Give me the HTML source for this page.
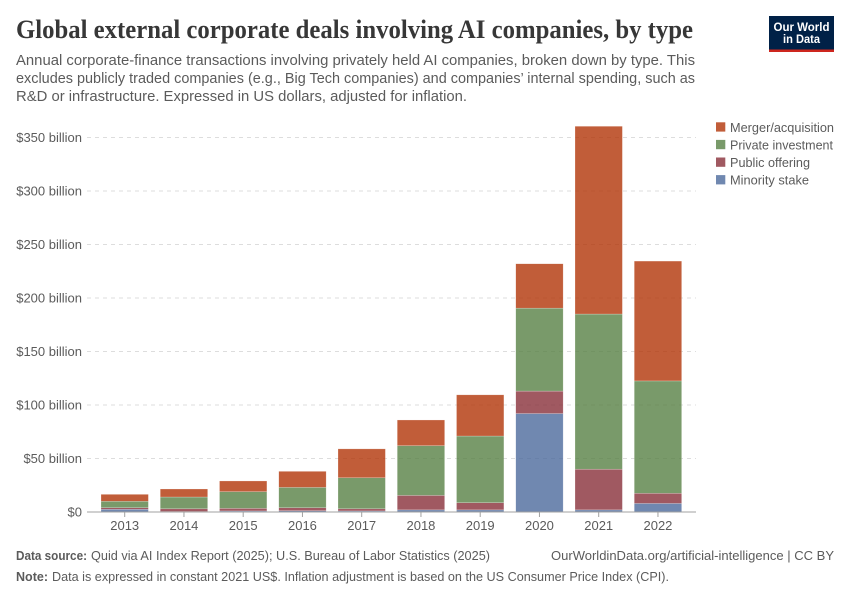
<!DOCTYPE html>
<html lang="en">
<head>
<meta charset="utf-8">
<title>Global external corporate deals involving AI companies, by type</title>
<style>
html,body{margin:0;padding:0;background:#fff;}
svg{display:block;font-family:"Liberation Sans",sans-serif;}
text{white-space:pre;}
</style>
</head>
<body>
<svg id="chart" width="850" height="600" viewBox="0 0 850 600" xmlns="http://www.w3.org/2000/svg">
  <rect width="850" height="600" fill="#ffffff"/>
  <text x="16" y="38" font-family="'Liberation Serif',serif" font-weight="700" font-size="26" fill="#373737" textLength="677" lengthAdjust="spacingAndGlyphs">Global external corporate deals involving AI companies, by type</text>
  <g font-size="15" fill="#5b5b5b">
    <text x="16" y="65" textLength="679" lengthAdjust="spacingAndGlyphs">Annual corporate-finance transactions involving privately held AI companies, broken down by type. This</text>
    <text x="16" y="83" textLength="679" lengthAdjust="spacingAndGlyphs">excludes publicly traded companies (e.g., Big Tech companies) and companies’ internal spending, such as</text>
    <text x="16" y="101" textLength="451" lengthAdjust="spacingAndGlyphs">R&amp;D or infrastructure. Expressed in US dollars, adjusted for inflation.</text>
  </g>
  <g>
    <rect x="769" y="16" width="65" height="36" fill="#002147"/>
    <rect x="769" y="49.5" width="65" height="2.5" fill="#ce261e"/>
    <text x="801.5" y="31" text-anchor="middle" font-size="11.5" font-weight="700" fill="#ffffff" textLength="56" lengthAdjust="spacingAndGlyphs">Our World</text>
    <text x="801.5" y="43" text-anchor="middle" font-size="11.5" font-weight="700" fill="#ffffff" textLength="37" lengthAdjust="spacingAndGlyphs">in Data</text>
  </g>
  <g id="grid"></g>
  <g id="bars"></g>
  <g id="yaxis"></g>
  <g id="xaxis"></g>
  <g id="legend"></g>
  <g font-size="13" fill="#5b5b5b">
    <text x="16" y="560" font-weight="700" textLength="71" lengthAdjust="spacingAndGlyphs">Data source:</text>
    <text x="91" y="560" textLength="399" lengthAdjust="spacingAndGlyphs">Quid via AI Index Report (2025); U.S. Bureau of Labor Statistics (2025)</text>
    <text x="551" y="560" textLength="283" lengthAdjust="spacingAndGlyphs">OurWorldinData.org/artificial-intelligence | CC BY</text>
    <text x="16" y="581" font-weight="700" textLength="32" lengthAdjust="spacingAndGlyphs">Note:</text>
    <text x="52" y="581" textLength="617" lengthAdjust="spacingAndGlyphs">Data is expressed in constant 2021 US$. Inflation adjustment is based on the US Consumer Price Index (CPI).</text>
  </g>
</svg>
<script>
var years = [2013, 2014, 2015, 2016, 2017, 2018, 2019, 2020, 2021, 2022];
var minorityStake = [2.5, 0.5, 1, 1.2, 1, 2, 2, 92, 2, 8];
var publicOffering = [1.5, 2.5, 2.4, 2.8, 2, 13.5, 6.7, 21, 38, 9.5];
var privateInvestment = [6, 11, 15.6, 19, 29, 46.5, 62.3, 77.5, 145, 105];
var mergerAcquisition = [6.5, 7.5, 10, 15, 27, 24, 38.5, 41.5, 175.5, 112];
var yTickValues = [0, 50, 100, 150, 200, 250, 300, 350];
var yTickLabels = ['$0', '$50 billion', '$100 billion', '$150 billion', '$200 billion', '$250 billion', '$300 billion', '$350 billion'];
var legendLabels = ['Merger/acquisition', 'Private investment', 'Public offering', 'Minority stake'];

var SVG_NS = 'http://www.w3.org/2000/svg';
var plotLeft = 87, plotRight = 696, baseY = 512, pxPerUnit = 1.07;
var firstCenter = 124.7, step = 59.25, barWidth = 47.4;
var stackOrder = [minorityStake, publicOffering, privateInvestment, mergerAcquisition];
var stackNames = ['minority-stake', 'public-offering', 'private-investment', 'merger-acquisition'];
var stackColors = ['#4C6A9C', '#883039', '#578145', '#B13507'];

function yScale(v) { return baseY - v * pxPerUnit; }
function xScale(i) { return firstCenter + i * step; }
function make(tag, attrs, parent) {
  var el = document.createElementNS(SVG_NS, tag);
  for (var k in attrs) { el.setAttribute(k, attrs[k]); }
  parent.appendChild(el);
  return el;
}

var gridGroup = document.getElementById('grid');
var yAxisGroup = document.getElementById('yaxis');
yTickValues.forEach(function (v, i) {
  var y = yScale(v);
  if (v !== 0) {
    var line = make('line', { x1: plotLeft, x2: plotRight, y1: y, y2: y, stroke: '#dddddd', 'stroke-dasharray': '4,4' }, gridGroup);
    
    
  }
  var label = make('text', { x: 82, y: y + 4.5, 'text-anchor': 'end', 'font-size': '13', fill: '#5b5b5b' }, yAxisGroup);
  label.textContent = yTickLabels[i];
  
  
});

var barsGroup = document.getElementById('bars');
years.forEach(function (year, i) {
  var cum = 0;
  stackOrder.forEach(function (series, s) {
    var v = series[i];
    var top = yScale(cum + v);
    var h = v * pxPerUnit;
    var r = make('rect', {
      x: xScale(i) - barWidth / 2, y: top, width: barWidth, height: h,
      fill: stackColors[s], 'fill-opacity': 0.8,
      stroke: '#ffffff', 'stroke-opacity': 0.45, 'stroke-width': 0.5
    }, barsGroup);
    
    
    cum += v;
  });
});

var xAxisGroup = document.getElementById('xaxis');
var axisLine = make('line', { x1: plotLeft, x2: plotRight, y1: baseY, y2: baseY, stroke: '#a1a1a1', 'stroke-width': 1 }, xAxisGroup);


years.forEach(function (year, i) {
  var cx = xScale(i);
  var tick = make('line', { x1: cx, x2: cx, y1: baseY, y2: baseY + 5, stroke: '#a1a1a1', 'stroke-width': 1 }, xAxisGroup);
  
  
  var lbl = make('text', { x: cx, y: 530, 'text-anchor': 'middle', 'font-size': '13', fill: '#5b5b5b' }, xAxisGroup);
  lbl.textContent = year;
  
  
});

var legendGroup = document.getElementById('legend');
var legendColors = ['#B13507', '#578145', '#883039', '#4C6A9C'];
var legendWidths = [104, 103, 80, 79];
legendLabels.forEach(function (name, i) {
  var y = 122.3 + i * 17.6;
  var sw = make('rect', { x: 716, y: y, width: 9.3, height: 9.3, fill: legendColors[i], 'fill-opacity': 0.8 }, legendGroup);
  
  
  var t = make('text', { x: 730, y: y + 9.5, 'font-size': '13', fill: '#5b5b5b', textLength: legendWidths[i], lengthAdjust: 'spacingAndGlyphs' }, legendGroup);
  t.textContent = name;
  
  
});
</script>
</body>
</html>
